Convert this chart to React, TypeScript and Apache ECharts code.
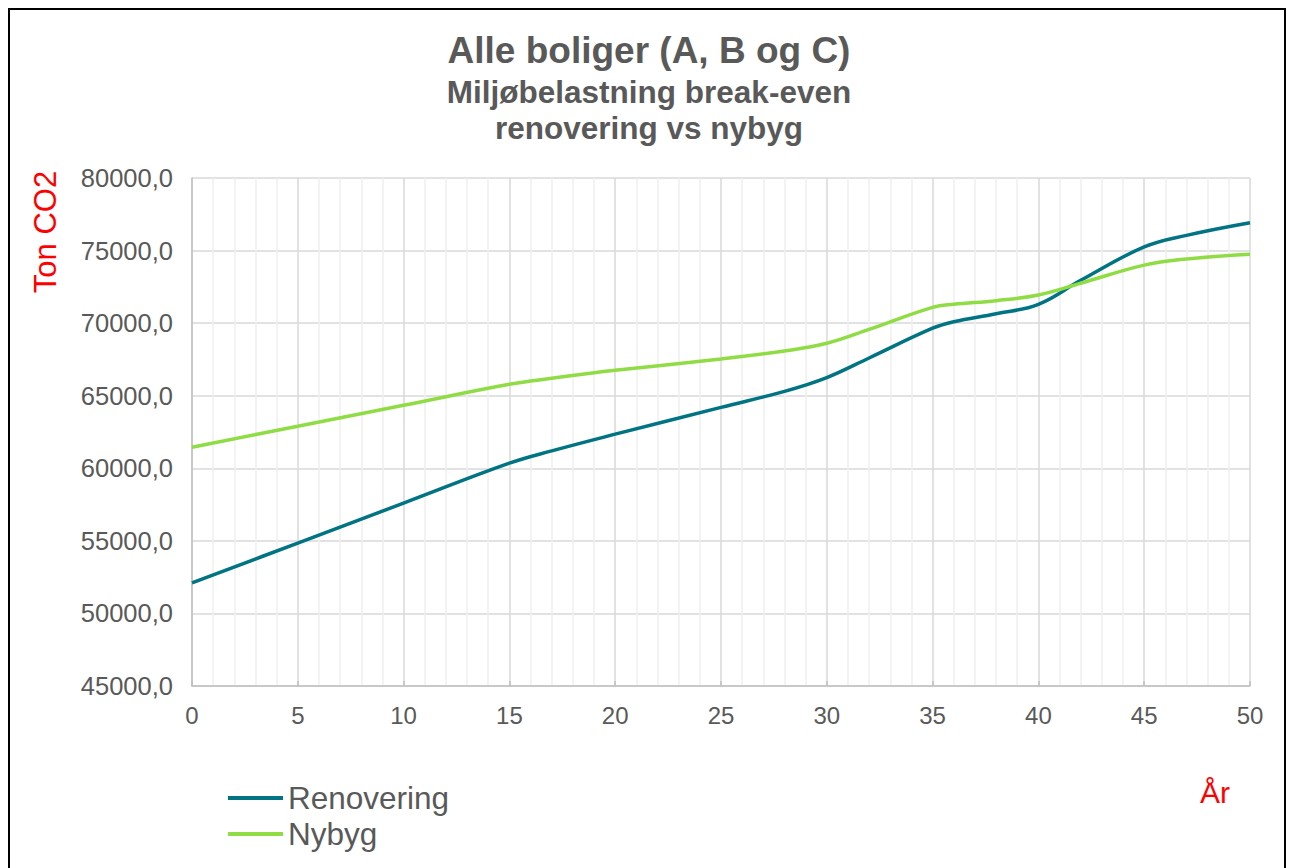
import React, { useEffect, useRef } from "react";
import * as echarts from "echarts";

const years = [0, 5, 10, 15, 17, 20, 25, 28, 30, 32, 35, 36, 38, 40, 42, 45, 47, 50];
const renovering = [52100, 54850, 57600, 60350, 61200, 62350, 64200, 65300, 66250, 67600, 69650, 70100, 70650, 71300, 72950, 75250, 76050, 76920];
const nybyg = [61450, 62900, 64340, 65790, 66200, 66750, 67530, 68080, 68610, 69570, 71090, 71300, 71550, 71940, 72750, 74000, 74420, 74740];
const seriesNames = ["Renovering", "Nybyg"];
const titleText = "Alle boliger (A, B og C)";
const subText = "Miljøbelastning break-even\nrenovering vs nybyg";

const FONT = "'Liberation Sans', Arial, sans-serif";
const GREY = "#595959";

export default function App() {
  const ref = useRef<HTMLDivElement>(null);
  useEffect(() => {
    if (!ref.current) return;
    const chart = echarts.init(ref.current, null, { renderer: "svg" });
    chart.setOption({
      animation: false,
      backgroundColor: "#ffffff",
      textStyle: { fontFamily: FONT },
      title: {
        text: titleText,
        subtext: subText,
        left: 649,
        top: 30,
        padding: 0,
        itemGap: 4,
        textAlign: "center",
        textStyle: { fontFamily: FONT, fontSize: 37, fontWeight: "bold", color: GREY, lineHeight: 40 },
        subtextStyle: { fontFamily: FONT, fontSize: 31.5, fontWeight: "bold", color: GREY, lineHeight: 36 },
      },
      legend: {
        orient: "vertical",
        left: 223,
        top: 777,
        itemWidth: 55,
        itemHeight: 4,
        itemGap: 4,
        icon: "rect",
        data: seriesNames,
        textStyle: { fontFamily: FONT, fontSize: 31.5, color: GREY },
      },
      grid: { left: 192, right: 40, top: 178, bottom: 182, containLabel: false },
      xAxis: {
        type: "value",
        min: 0,
        max: 50,
        interval: 5,
        axisLine: { show: true, lineStyle: { color: "#bfbfbf", width: 1.5 } },
        axisTick: { show: true, inside: true, length: 5, lineStyle: { color: "#bfbfbf", width: 1.5 } },
        axisLabel: { fontFamily: FONT, fontSize: 24, color: GREY, margin: 17 },
        splitLine: { show: true, lineStyle: { color: "#d9d9d9", width: 1.5 } },
        minorTick: { show: false, splitNumber: 5 },
        minorSplitLine: { show: true, lineStyle: { color: "#efefef", width: 1.5 } },
      },
      yAxis: {
        type: "value",
        min: 45000,
        max: 80000,
        interval: 5000,
        axisLine: { show: true, lineStyle: { color: "#bfbfbf", width: 1.5 } },
        axisTick: { show: false },
        axisLabel: {
          fontFamily: FONT,
          fontSize: 25.5,
          color: GREY,
          margin: 19,
          formatter: (v: number) => v.toFixed(1).replace(".", ","),
        },
        splitLine: { show: true, lineStyle: { color: "#d9d9d9", width: 1.5 } },
      },
      series: [
        {
          name: seriesNames[0],
          type: "line",
          data: years.map((y, i) => [y, renovering[i]]),
          smooth: 0.4,
          symbol: "none",
          color: "#007482",
          lineStyle: { color: "#007482", width: 3.5 },
        },
        {
          name: seriesNames[1],
          type: "line",
          data: years.map((y, i) => [y, nybyg[i]]),
          smooth: 0.4,
          symbol: "none",
          color: "#8fdc45",
          lineStyle: { color: "#8fdc45", width: 3.5 },
        },
      ],
      graphic: [
        {
          type: "rect",
          shape: { x: 9, y: 9, width: 1276, height: 900 },
          style: { fill: "none", stroke: "#000000", lineWidth: 2 },
          silent: true,
        },
        {
          type: "text",
          x: 45,
          y: 232,
          rotation: Math.PI / 2,
          style: {
            text: "Ton CO2",
            fontFamily: FONT,
            fontSize: 31,
            fill: "#ff0000",
            align: "center",
            verticalAlign: "middle",
          },
        },
        {
          type: "text",
          x: 1215,
          y: 792,
          style: {
            text: "År",
            fontFamily: FONT,
            fontSize: 30,
            fill: "#ff0000",
            align: "center",
            verticalAlign: "middle",
          },
        },
      ],
    });
    return () => chart.dispose();
  }, []);
  return (
    <div
      ref={ref}
      style={{ position: "fixed", left: 0, top: 0, width: 1290, height: 868 }}
    />
  );
}
